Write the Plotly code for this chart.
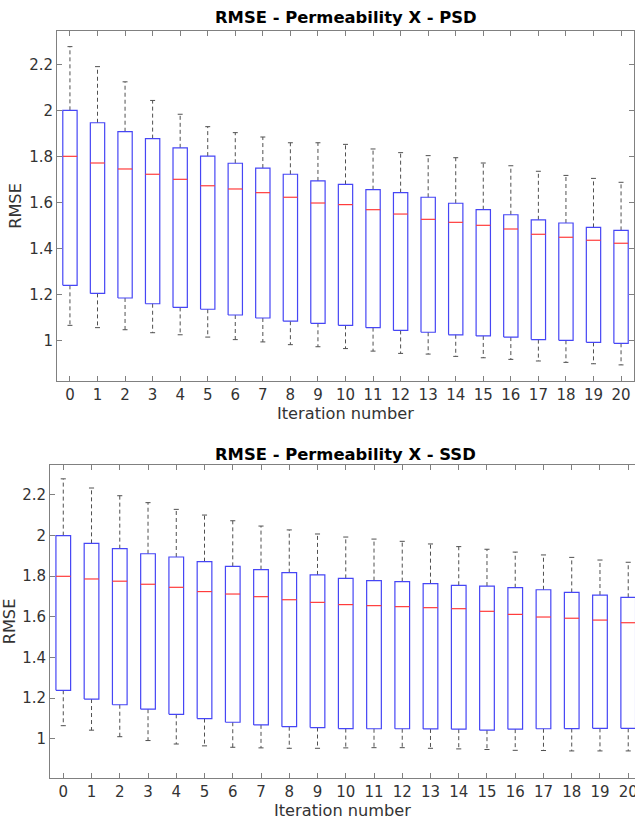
import plotly.graph_objects as go

iterations = list(range(21))
tick_labels = [str(i) for i in iterations]

# PSD (top)
psd_upper = [2.277, 2.190, 2.124, 2.043, 1.983, 1.929, 1.903, 1.884, 1.859, 1.859, 1.852,
             1.832, 1.816, 1.803, 1.794, 1.771, 1.759, 1.735, 1.717, 1.704, 1.687]
psd_q3 = [2.000, 1.946, 1.907, 1.877, 1.837, 1.801, 1.770, 1.749, 1.722, 1.693, 1.678,
          1.655, 1.642, 1.622, 1.596, 1.568, 1.546, 1.524, 1.510, 1.491, 1.478]
psd_median = [1.800, 1.771, 1.745, 1.722, 1.700, 1.672, 1.658, 1.642, 1.622, 1.597, 1.590,
              1.568, 1.549, 1.526, 1.513, 1.500, 1.484, 1.461, 1.448, 1.435, 1.422]
psd_q1 = [1.239, 1.204, 1.184, 1.159, 1.143, 1.135, 1.110, 1.097, 1.083, 1.074, 1.065,
          1.055, 1.043, 1.035, 1.024, 1.019, 1.014, 1.003, 1.000, 0.991, 0.987]
psd_lower = [1.065, 1.055, 1.046, 1.033, 1.024, 1.014, 1.003, 0.993, 0.981, 0.972, 0.964,
             0.953, 0.943, 0.940, 0.930, 0.924, 0.917, 0.910, 0.904, 0.898, 0.893]

# SSD (bottom)
ssd_upper = [2.278, 2.233, 2.195, 2.161, 2.128, 2.100, 2.072, 2.046, 2.027, 2.007, 1.992,
             1.982, 1.971, 1.958, 1.945, 1.932, 1.918, 1.904, 1.892, 1.879, 1.868]
ssd_q3 = [1.999, 1.961, 1.935, 1.910, 1.894, 1.871, 1.848, 1.832, 1.817, 1.806, 1.789,
          1.778, 1.773, 1.763, 1.755, 1.751, 1.743, 1.733, 1.720, 1.707, 1.696]
ssd_median = [1.799, 1.786, 1.775, 1.760, 1.745, 1.724, 1.712, 1.699, 1.684, 1.671, 1.660,
              1.655, 1.650, 1.645, 1.640, 1.627, 1.612, 1.599, 1.593, 1.584, 1.571]
ssd_q1 = [1.239, 1.196, 1.168, 1.146, 1.121, 1.100, 1.082, 1.069, 1.060, 1.056, 1.051,
          1.050, 1.050, 1.049, 1.048, 1.043, 1.048, 1.050, 1.051, 1.052, 1.052]
ssd_lower = [1.065, 1.043, 1.011, 0.992, 0.975, 0.966, 0.959, 0.956, 0.954, 0.954, 0.956,
             0.957, 0.957, 0.954, 0.951, 0.948, 0.944, 0.943, 0.941, 0.941, 0.941]

y_ticks = [1, 1.2, 1.4, 1.6, 1.8, 2, 2.2]
y_tick_labels = ["1", "1.2", "1.4", "1.6", "1.8", "2", "2.2"]

BOX_HALF = 0.26
CAP_HALF = 0.09
BLUE = "rgb(70,70,245)"
RED = "rgb(255,60,60)"
WHISK = "rgb(80,80,80)"


def box_traces(xs, lo, q1, med, q3, hi, xa, ya):
    bx, by, mx, my, wx, wy, cx, cy = [], [], [], [], [], [], [], []
    for i, a, b, m, c, d in zip(xs, lo, q1, med, q3, hi):
        bx += [i - BOX_HALF, i + BOX_HALF, i + BOX_HALF, i - BOX_HALF, i - BOX_HALF, None]
        by += [b, b, c, c, b, None]
        mx += [i - BOX_HALF, i + BOX_HALF, None]
        my += [m, m, None]
        wx += [i, i, None, i, i, None]
        wy += [c, d, None, b, a, None]
        cx += [i - CAP_HALF, i + CAP_HALF, None, i - CAP_HALF, i + CAP_HALF, None]
        cy += [d, d, None, a, a, None]
    common = dict(mode="lines", xaxis=xa, yaxis=ya, hoverinfo="skip", showlegend=False)
    return [
        go.Scatter(x=wx, y=wy, line=dict(color=WHISK, width=1, dash="4px,3px"), **common),
        go.Scatter(x=cx, y=cy, line=dict(color=WHISK, width=1), **common),
        go.Scatter(x=bx, y=by, line=dict(color=BLUE, width=1.2), **common),
        go.Scatter(x=mx, y=my, line=dict(color=RED, width=1.2), **common),
    ]


fig = go.Figure()
for t in box_traces(iterations, psd_lower, psd_q1, psd_median, psd_q3, psd_upper, "x", "y"):
    fig.add_trace(t)
for t in box_traces(iterations, ssd_lower, ssd_q1, ssd_median, ssd_q3, ssd_upper, "x2", "y2"):
    fig.add_trace(t)

font = "DejaVu Sans"
tickfont = dict(family=font, size=15, color="#333333")
titlefont = dict(family=font, size=16.2, color="#333333")
axis_common = dict(showline=True, linecolor="#808080", linewidth=1, ticks="inside",
                   ticklen=5, tickcolor="#808080", showgrid=False, zeroline=False,
                   tickfont=tickfont, automargin=False, ticklabeloverflow="allow")

W, H = 635, 820
fig.update_layout(
    width=W, height=H,
    margin=dict(l=0, r=0, t=0, b=0, autoexpand=False),
    paper_bgcolor="white", plot_bgcolor="white",
    xaxis=dict(domain=[57 / W, 634 / W], anchor="y", range=[-0.47, 20.47],
               tickvals=iterations, ticktext=tick_labels, mirror="ticks",
               title=dict(text="Iteration number", font=titlefont, standoff=2),
               **axis_common),
    yaxis=dict(domain=[1 - 381 / H, 1 - 31 / H], anchor="x", range=[0.823, 2.345],
               tickvals=y_ticks, ticktext=y_tick_labels, mirror="ticks",
               title=dict(text="RMSE", font=titlefont, standoff=3),
               **axis_common),
    xaxis2=dict(domain=[50 / W, 1.0], anchor="y2", range=[-0.47, 20.24],
                tickvals=iterations, ticktext=tick_labels, mirror="ticks",
                title=dict(text="Iteration number", font=titlefont, standoff=2),
                **axis_common),
    yaxis2=dict(domain=[1 - 778 / H, 1 - 465 / H], anchor="x2", range=[0.808, 2.346],
                tickvals=y_ticks, ticktext=y_tick_labels, mirror=False,
                title=dict(text="RMSE", font=titlefont, standoff=3),
                **axis_common),
    annotations=[
        dict(text="<b>RMSE - Permeability X - PSD</b>", xref="paper", yref="paper",
             x=(57 + 634) / 2 / W, y=1 - 17.5 / H, xanchor="center", yanchor="middle",
             showarrow=False, font=dict(family=font, size=16.4, color="black")),
        dict(text="<b>RMSE - Permeability X - SSD</b>", xref="paper", yref="paper",
             x=(50 + 641) / 2 / W, y=1 - 454 / H, xanchor="center", yanchor="middle",
             showarrow=False, font=dict(family=font, size=16.4, color="black")),
    ],
)

fig.write_html("out.html", config={"displayModeBar": False},
               post_script="document.body.style.margin='0px';")
